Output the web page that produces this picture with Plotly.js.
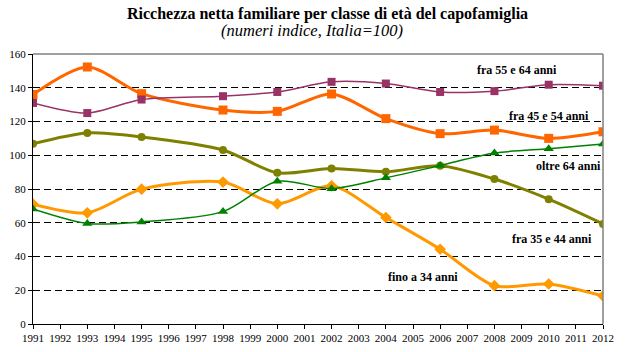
<!DOCTYPE html>
<html>
<head>
<meta charset="utf-8">
<script src="https://cdn.plot.ly/plotly-3.0.1.min.js"></script>
<style>html,body{margin:0;padding:0;background:#fff;}#chart{width:627px;height:352px;}</style>
</head>
<body>
<div id="chart"></div>
<script>
const allYears = ["1991","1992","1993","1994","1995","1996","1997","1998","1999","2000","2001","2002","2003","2004","2005","2006","2007","2008","2009","2010","2011","2012"];
const years = ["1991","1993","1995","1998","2000","2002","2004","2006","2008","2010","2012"];
const fra55e64 = [131, 125, 133, 135, 137.5, 143.5, 142.5, 137.5, 138, 141.8, 141.2];
const fra45e54 = [136, 152.3, 136.5, 126.8, 126, 136.3, 121.7, 112.8, 114.9, 110, 113.9];
const oltre64 = [68.1, 59.5, 60.5, 66.6, 84.6, 80.2, 86.6, 93.9, 101.3, 103.9, 106.6];
const fra35e44 = [106.8, 113.2, 110.8, 103.1, 89.6, 92.2, 90.2, 93.8, 85.9, 74, 59.3];
const fino34 = [71, 65.9, 79.9, 84.1, 71.2, 81.9, 63.1, 44.3, 22.7, 23.7, 16.6];
const yTicks = [0,20,40,60,80,100,120,140,160];

function tr(y, color, width, symbol, msize){
  return {x: years, y: y, type:'scatter', mode:'lines+markers',
    line:{color:color, width:width, shape:'spline', smoothing:0.8},
    marker:{color:color, symbol:symbol, size:msize}, hoverinfo:'none'};
}
const data = [
  tr(fino34, '#FF9900', 3, 'diamond', 9),
  tr(fra35e44, '#808000', 3, 'circle', 8),
  tr(oltre64, '#008000', 1.5, 'triangle-up', 9),
  tr(fra45e54, '#FF6600', 3, 'square', 9),
  tr(fra55e64, '#993366', 1.5, 'square', 8)
];
const serif = "'Liberation Serif', 'Times New Roman', serif";
function lab(text, px, py){
  return {text:'<b>'+text+'</b>', xref:'paper', yref:'paper',
    x:(px-33)/570, y:(324-py)/270, showarrow:false,
    font:{family:serif, size:12, color:'#000'}, xanchor:'center', yanchor:'middle'};
}
const layout = {
  width:627, height:352,
  margin:{l:33, r:24, t:54, b:28},
  paper_bgcolor:'#fff', plot_bgcolor:'#fff',
  showlegend:false,
  font:{family:serif, size:11, color:'#000'},
  xaxis:{type:'category', categoryorder:'array', categoryarray:allYears,
    tickvals:allYears, ticktext:allYears,
    range:[0,21], showgrid:false, zeroline:false,
    showline:true, linecolor:'#000', linewidth:1,
    ticks:'outside', ticklen:4, tickcolor:'#000',
    tickfont:{family:serif, size:11, color:'#000'}},
  yaxis:{range:[0,160], tickvals:yTicks, ticktext:yTicks.map(String),
    showgrid:true, gridcolor:'#000', gridwidth:1, griddash:'7px,4px',
    zeroline:false, showline:true, linecolor:'#000', linewidth:1,
    ticks:'outside', ticklen:4, tickcolor:'#000',
    tickfont:{family:serif, size:11, color:'#000'}},
  shapes:[
    {type:'line', xref:'paper', yref:'paper', x0:0, x1:1, y0:1, y1:1, line:{color:'#808080', width:1.5}},
    {type:'line', xref:'paper', yref:'paper', x0:1, x1:1, y0:0, y1:1, line:{color:'#808080', width:1.5}}
  ],
  annotations:[
    {text:'<b>Ricchezza netta familiare per classe di età del capofamiglia</b>', xref:'paper', yref:'paper',
      x:(327-33)/570, y:(324-14)/270, showarrow:false, xanchor:'center', yanchor:'middle',
      font:{family:serif, size:16, color:'#000'}},
    {text:'<i>(numeri indice, Italia=100)</i>', xref:'paper', yref:'paper',
      x:(312-33)/570, y:(324-31)/270, showarrow:false, xanchor:'center', yanchor:'middle',
      font:{family:serif, size:16.5, color:'#000'}},
    lab('fra 55 e 64 anni', 517, 70),
    lab('fra 45 e 54 anni', 549, 116),
    lab('oltre 64 anni', 568, 166),
    lab('fra 35 e 44 anni', 552, 239),
    lab('fino a 34 anni', 423, 277)
  ]
};
Plotly.newPlot('chart', data, layout, {displayModeBar:false, staticPlot:true});
</script>
</body>
</html>
